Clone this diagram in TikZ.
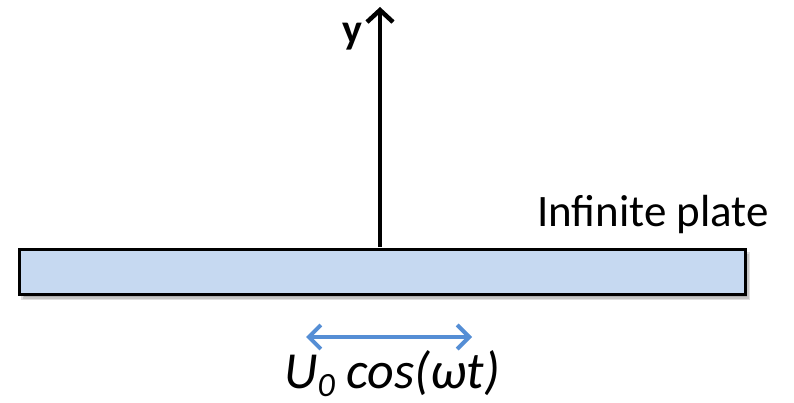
\documentclass[tikz,border=0pt]{standalone}
\usepackage{fontspec}
\setmainfont{Carlito}
\usetikzlibrary{arrows.meta,positioning}
\definecolor{PlateFill}{HTML}{C6D9F1}
\definecolor{MotionBlue}{HTML}{558ED5}
\tikzset{
  platebox/.style={
    draw=black,
    fill=PlateFill,
    line width=3.2pt
  },
  plateshadow/.style={
    fill=black,
    opacity=0.12
  },
  axisarrow/.style={-{Straight Barb[length=12pt,width=26pt]},draw=black,line width=4.5pt},
  motionarrow/.style={{Straight Barb[length=12pt,width=24pt]}-{Straight Barb[length=12pt,width=24pt]},draw=MotionBlue,line width=4pt},
  biglabel/.style={font=\fontsize{45}{48}\selectfont,inner sep=0pt}
}

\begin{document}
\begin{tikzpicture}[x=1pt,y=-1pt]
  \useasboundingbox (0,0) rectangle (794,403);
  % soft shadow under the plate
  \foreach \s in {0,1.5,3}
    \fill[plateshadow] (21+\s,252+\s) rectangle (750-\s,300-\s);
  \node[platebox,minimum width=726pt,minimum height=45pt,inner sep=0pt,anchor=north west] (plate) at (18,248) {};
  \coordinate (origin) at (380,247);
  \coordinate (ytip) at (380,7);
  \draw[axisarrow] (origin) -- (ytip);
  \node[font=\fontsize{42}{44}\selectfont\bfseries,inner sep=0pt] (ylabel) at (352,37) {y};
  \node[biglabel,anchor=base] (platelabel) at (653,226) {Infinite plate};
  \coordinate (uleft) at (306,337);
  \coordinate (uright) at (472,337);
  \draw[motionarrow] (uleft) -- (uright);
  \node[font=\fontsize{52}{54}\selectfont\itshape,inner sep=0pt,anchor=base] (vel) at (392,388)
    {U\raisebox{-8pt}{\fontsize{34}{36}\selectfont 0} cos(ωt)};
\end{tikzpicture}
\end{document}
